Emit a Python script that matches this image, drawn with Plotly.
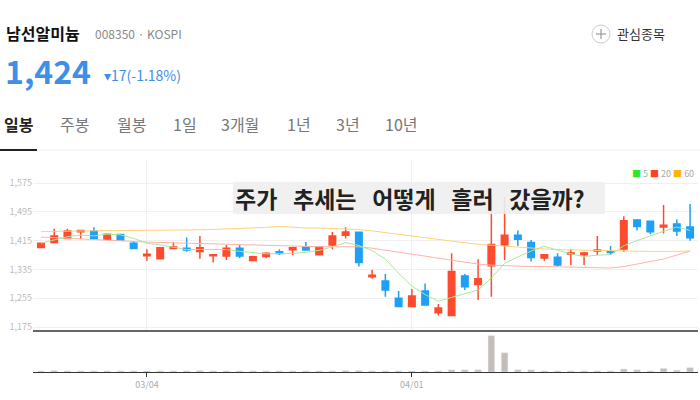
import plotly.graph_objects as go

opens  = [1396,1410,1421,1440,1442,1419,1432,1408,1373,1365,1393,1394,1385,1373,1372,1394,1360,1371,1384,1390,
          1397,1376,1403,1430,1438,1315,1303,1255,1232,1275,1215,1207,1317,1293,1345,1403,1430,1410,1367,1369,
          1378,1376,1386,1385,1392,1472,1469,1453,1461,1453]
closes = [1408,1428,1442,1443,1420,1433,1417,1393,1377,1395,1397,1389,1395,1376,1394,1372,1370,1380,1379,1395,
          1389,1397,1428,1439,1354,1319,1278,1232,1261,1236,1228,1329,1287,1309,1404,1430,1419,1368,1376,1347,
          1381,1381,1389,1382,1470,1454,1440,1458,1442,1423]
highs  = [1408,1448,1448,1445,1452,1433,1434,1414,1391,1396,1411,1424,1428,1378,1403,1403,1373,1383,1391,1398,
          1411,1398,1439,1452,1438,1334,1322,1275,1281,1296,1239,1380,1322,1363,1537,1537,1443,1417,1376,1380,
          1392,1384,1428,1400,1483,1475,1469,1514,1474,1517]
lows   = [1396,1408,1420,1420,1417,1417,1415,1392,1359,1365,1392,1384,1365,1354,1361,1366,1360,1366,1375,1375,
          1388,1375,1391,1421,1343,1309,1259,1230,1232,1236,1207,1207,1278,1250,1259,1361,1400,1357,1359,1343,
          1347,1347,1375,1375,1384,1443,1433,1435,1428,1415]
ma20 = [1425,1423,1421,1420,1419,1417,1415,1413,1411,1410,1409,1408,1407,1406,1404,1402,1401,1400,1399,1398,
        1398,1398,1398,1399,1398,1394,1389,1384,1378,1372,1366,1360,1354,1350,1347,1345,1344,1343,1343,1342,
        1342,1341,1340,1339,1343,1350,1356,1364,1375,1386]
ma60 = [1440,1441,1441,1442,1442,1443,1443,1443,1444,1444,1444,1445,1445,1446,1447,1448,1449,1452,1455,1452,
        1450,1450,1449,1448,1446,1442,1437,1432,1427,1422,1417,1413,1409,1405,1402,1399,1396,1394,1392,1390,
        1389,1388,1387,1386,1385,1385,1385,1385,1385,1386]
volume = [3,4,3,3,3,3,3,3,3,3,3,3,4,3,3,3,3,3,3,3,
          3,3,3,4,4,3,3,3,3,3,3,6,6,6,100,53,6,6,3,3,
          3,3,3,3,8,6,3,10,5,12]
tick_idx = [8, 28]
tick_lbl = ["03/04", "04/01"]
yticks = [1175, 1255, 1335, 1415, 1495, 1575]

x = list(range(len(opens)))
ma5 = []
for i in range(len(closes)):
    w = closes[max(0, i-4):i+1]
    ma5.append(sum(w)/len(w))

RED, BLUE = "#ff4a2e", "#1ea0f5"
fig = go.Figure()
fig.add_trace(go.Scatter(x=x, y=ma60, mode="lines", line=dict(color="#ffd27a", width=1), hoverinfo="skip"))
fig.add_trace(go.Scatter(x=x, y=ma20, mode="lines", line=dict(color="#ffb3a8", width=1), hoverinfo="skip"))
fig.add_trace(go.Scatter(x=x, y=ma5, mode="lines", line=dict(color="#a8e89a", width=1), hoverinfo="skip"))
fig.add_trace(go.Candlestick(x=x, open=opens, high=highs, low=lows, close=closes,
    increasing=dict(line=dict(color=RED, width=1.5), fillcolor=RED),
    decreasing=dict(line=dict(color=BLUE, width=1.5), fillcolor=BLUE), whiskerwidth=0))
fig.add_trace(go.Bar(x=x, y=volume, marker_color="#c6bcb6", width=0.5, xaxis="x2", yaxis="y2"))

fig.update_layout(
    width=700, height=400, margin=dict(l=0, r=0, t=0, b=0, autoexpand=False), showlegend=False,
    paper_bgcolor="white", plot_bgcolor="white",
    font=dict(family="Noto Sans CJK KR"),
    xaxis=dict(domain=[33/700, 698/700], range=[-0.6, 49.6], rangeslider=dict(visible=False),
               tickvals=tick_idx, ticktext=[""]*2, showgrid=True, gridcolor="#f0f0f0",
               zeroline=False, anchor="y", automargin=False),
    yaxis=dict(domain=[1-331/400, 1-160/400], range=[1164, 1639], tickvals=yticks,
               ticktext=[f"{v:,}" for v in yticks], tickfont=dict(size=9, color="#bbbbbb"),
               gridcolor="#f0f0f0", zeroline=False, showline=False, ticks="", automargin=False),
    xaxis2=dict(domain=[33/700, 698/700], range=[-0.6, 49.6], anchor="y2",
                tickvals=tick_idx, ticktext=tick_lbl, tickfont=dict(size=9, color="#aaaaaa"),
                showgrid=False, showline=True, linecolor="#333", ticks="outside", ticklen=4,
                tickcolor="#333", automargin=False),
    yaxis2=dict(domain=[1-372/400, 1-332/400], range=[0, 110], showticklabels=False,
                showgrid=False, zeroline=False, automargin=False),
)
shapes = [
    dict(type="line", xref="paper", yref="paper", x0=33/700, x1=698/700, y0=1-331/400, y1=1-331/400,
         line=dict(color="#333", width=1.5)),
    dict(type="line", xref="paper", yref="paper", x0=0, x1=1, y0=1-150/400, y1=1-150/400,
         line=dict(color="#eeeeee", width=1)),
    dict(type="line", xref="paper", yref="paper", x0=0, x1=37/700, y0=1-150/400, y1=1-150/400,
         line=dict(color="#222", width=2)),
    dict(type="rect", xref="paper", yref="paper", x0=233/700, x1=605/700, y0=1-214/400, y1=1-182/400,
         fillcolor="rgba(238,238,238,0.9)", line=dict(width=0)),
    dict(type="circle", xref="paper", yref="paper", x0=592/700, x1=610/700, y0=1-43/400, y1=1-25/400,
         line=dict(color="#cccccc", width=1)),
    dict(type="line", xref="paper", yref="paper", x0=596/700, x1=606/700, y0=1-34/400, y1=1-34/400,
         line=dict(color="#999", width=1.2)),
    dict(type="line", xref="paper", yref="paper", x0=601/700, x1=601/700, y0=1-29/400, y1=1-39/400,
         line=dict(color="#999", width=1.2)),
]
fig.update_layout(shapes=shapes)
P = lambda px, py: dict(xref="paper", yref="paper", x=px/700, y=1-py/400, showarrow=False, yanchor="middle")
ann = [
    dict(**P(4, 33), text="<b>남선알미늄</b>", font=dict(size=16, color="#111"), xanchor="left"),
    dict(**P(93, 34), text="008350 · KOSPI", font=dict(size=12, color="#888"), xanchor="left"),
    dict(**P(615, 34), text="관심종목", font=dict(size=13, color="#333"), xanchor="left"),
    dict(**P(3, 70), text="<b>1,424</b>", font=dict(size=32, color="#3d8fe8"), xanchor="left"),
    dict(**P(102, 75), text="▾17(-1.18%)", font=dict(size=14, color="#3d8fe8"), xanchor="left"),
    dict(**P(233, 198), text="<b>주가&nbsp;&nbsp;&nbsp;추세는&nbsp;&nbsp;&nbsp;어떻게&nbsp;&nbsp;&nbsp;흘러&nbsp;&nbsp;&nbsp;갔을까?</b>",
         font=dict(size=23, color="#222"), xanchor="left"),
    dict(**P(630, 173), text="<span style='color:#2ee62e'>■</span> 5 <span style='color:#ff4125'>■</span> 20 "
         "<span style='color:#ffb400'>■</span> 60", font=dict(size=9, color="#aaa"), xanchor="left"),
]
tabs = [("일봉", 2), ("주봉", 58), ("월봉", 115), ("1일", 171), ("3개월", 219), ("1년", 285), ("3년", 334), ("10년", 383)]
for i, (t, px) in enumerate(tabs):
    ann.append(dict(**P(px, 124), text=f"<b>{t}</b>" if i == 0 else t,
                    font=dict(size=16, color="#222" if i == 0 else "#777"), xanchor="left"))
fig.update_layout(annotations=ann)
fig.write_html("out.html", config={"displayModeBar": False},
               post_script="document.body.style.margin='0';document.body.style.overflow='hidden';")
